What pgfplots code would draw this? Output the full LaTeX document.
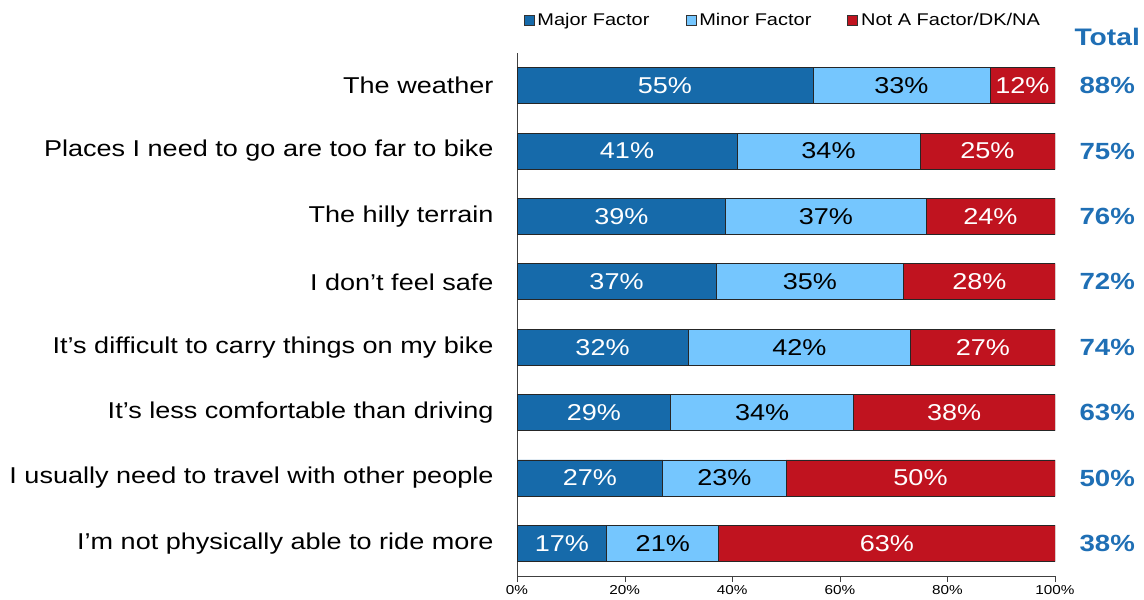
\documentclass[border=0pt]{standalone}
\usepackage{pgfplots}
\pgfplotsset{compat=1.18}
\usepackage{pgfplotstable}
\usepackage{fontspec}
\setmainfont{Liberation Sans}[FakeStretch=1.18]
\definecolor{cMaj}{HTML}{166AAA}
\definecolor{cMin}{HTML}{75C6FE}
\definecolor{cNot}{HTML}{C0131F}
\definecolor{cTot}{HTML}{1F6FB5}
\pgfplotstableread{
y  ma   mi   no   lma lmi lno tot
0  55.0 32.9 12.1 55  33  12  88
1  40.9 34.0 25.1 41  34  25  75
2  38.8 37.2 24.0 39  37  24  76
3  37.0 34.9 28.1 37  35  28  72
4  31.8 41.4 26.8 32  42  27  74
5  28.6 33.9 37.5 29  34  38  63
6  27.1 22.9 50.0 27  23  50  50
7  16.7 20.8 62.5 17  21  63  38
}\datatable
\begin{document}
\begin{tikzpicture}
\useasboundingbox (0,0) rectangle (1144bp,600bp);
\pgfplotsset{
  common/.style={
    at={(517bp,24bp)}, anchor=south west,
    scale only axis, width=538bp, height=523bp,
    xmin=0, xmax=100, ymin=-0.5, ymax=7.5, y dir=reverse,
  }
}
\begin{axis}[common,
  xbar stacked, bar width=36bp,
  axis x line=bottom, axis y line=left, axis line style={-, black!75},
  xtick={0,20,...,100},
  xticklabel={\pgfmathprintnumber{\tick}\%},
  /pgf/number format/assume math mode=true,
  x tick label style={font=\fontsize{13}{15}\selectfont},
  tick align=outside, major tick length=6bp,
  x tick style={black!75},
  ytick={0,...,7},
  yticklabels={The weather, Places I need to go are too far to bike, The hilly terrain, I don’t feel safe, It’s difficult to carry things on my bike, It’s less comfortable than driving, I usually need to travel with other people, I’m not physically able to ride more},
  y tick style={draw=none},
  y tick label style={font=\fontsize{23}{27}\selectfont, anchor=east, xshift=-14bp},
  legend style={at={(0.495,1.063)}, anchor=center, draw=none, fill=none,
    legend columns=3, font=\fontsize{17}{20}\selectfont,
    nodes={inner xsep=3bp},
    /tikz/every even column/.append style={column sep=33bp}},
  legend image code/.code={\draw[#1, draw=black!80, line width=0.75bp] (0bp,-5bp) rectangle (10bp,5bp);},
  nodes near coords={\pgfplotspointmeta\%},
  point meta=explicit symbolic,
  every node near coord/.append style={font=\fontsize{23}{27}\selectfont, anchor=center},
]
\addplot[fill=cMaj, draw=black!85, line width=0.75bp,
  every node near coord/.append style={text=white}]
  table[x=ma, y=y, meta=lma] \datatable;
\addplot[fill=cMin, draw=black!85, line width=0.75bp,
  every node near coord/.append style={text=black}]
  table[x=mi, y=y, meta=lmi] \datatable;
\addplot[fill=cNot, draw=black!85, line width=0.75bp,
  every node near coord/.append style={text=white}]
  table[x=no, y=y, meta=lno] \datatable;
\legend{Major Factor, Minor Factor, Not A Factor/DK/NA}
\end{axis}
\begin{axis}[common, hide axis, clip=false]
\addplot[only marks, mark=*, mark size=0pt, draw=none, fill=none,
  nodes near coords={\pgfplotspointmeta\%}, point meta=explicit symbolic,
  every node near coord/.append style={anchor=center, text=cTot, font=\bfseries\fontsize{23.5}{28}\selectfont}]
  table[x expr=109.7, y=y, meta=tot] \datatable;
\node[text=cTot, font=\bfseries\fontsize{24}{29}\selectfont] at (axis cs:109.7,-0.745) {Total};
\end{axis}
\end{tikzpicture}
\end{document}
